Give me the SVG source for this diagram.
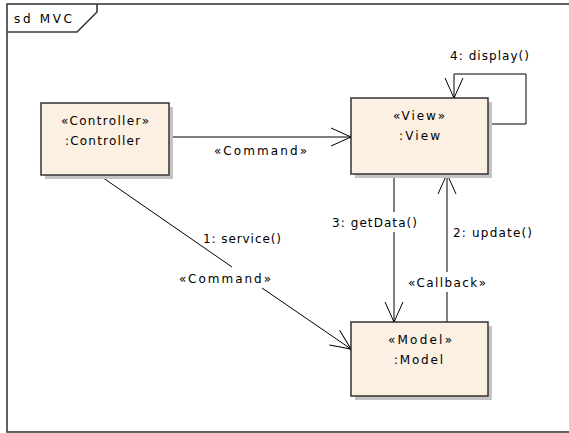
<svg xmlns="http://www.w3.org/2000/svg" width="569" height="433" viewBox="0 0 569 433">
<defs>
<style>
text{font-family:"DejaVu Sans","Liberation Sans",sans-serif;font-size:12px;fill:#000}
.c{text-anchor:middle}
.box{fill:#FBF0E2;stroke:#333;stroke-width:1.5}
.sh{fill:#C4C4C4}
.con{fill:none;stroke:#000;stroke-width:1}
.frame{fill:none;stroke:#3a3a3a;stroke-width:1.6}
</style>
<marker id="arr" markerUnits="userSpaceOnUse" viewBox="-21 -10 23 20" markerWidth="23" markerHeight="20" refX="0" refY="0" orient="auto">
<path d="M-20,-9 L0,0 L-20,9" fill="none" stroke="#000" stroke-width="1"/>
<circle cx="0" cy="0" r="1.6" fill="#000"/>
</marker>
</defs>
<rect width="569" height="433" fill="#fff"/>
<g id="frame">
<rect class="frame" x="7" y="4" width="570" height="428"/>
<path class="frame" d="M7,32 H77 L97,12 V4"/>
<text x="14" y="23" textLength="58" lengthAdjust="spacing">sd MVC</text>
</g>
<g id="connectors">
<path class="con" d="M169,137 H351" marker-end="url(#arr)"/>
<path class="con" d="M488,124 H526 V74 H454 V98" marker-end="url(#arr)"/>
<path class="con" d="M394,174 V212 M394,232 V322" marker-end="url(#arr)"/>
<path class="con" d="M447,322 V292 M447,272 V174" marker-end="url(#arr)"/>
<path class="con" d="M99,175 L232,267 M262,288 L351,349" marker-end="url(#arr)"/>
<text class="c" x="260.5" y="155" textLength="93" lengthAdjust="spacing">«Command»</text>
<text x="450" y="60" textLength="79" lengthAdjust="spacing">4: display()</text>
<text x="332" y="227" textLength="85" lengthAdjust="spacing">3: getData()</text>
<text x="453" y="237" textLength="79" lengthAdjust="spacing">2: update()</text>
<text class="c" x="447" y="287" textLength="78" lengthAdjust="spacing">«Callback»</text>
<text x="203" y="243" textLength="78" lengthAdjust="spacing">1: service()</text>
<text class="c" x="225" y="283" textLength="92" lengthAdjust="spacing">«Command»</text>
</g>
<g id="controller">
<rect class="sh" x="45" y="107" width="128" height="72"/>
<rect class="box" x="41" y="103" width="128" height="72"/>
<text class="c" x="105" y="125" textLength="88" lengthAdjust="spacing">«Controller»</text>
<text class="c" x="102.5" y="145" textLength="75" lengthAdjust="spacing">:Controller</text>
</g>
<g id="view">
<rect class="sh" x="355" y="102" width="137" height="76"/>
<rect class="box" x="351" y="98" width="137" height="76"/>
<text class="c" x="419" y="120" textLength="52" lengthAdjust="spacing">«View»</text>
<text class="c" x="419.5" y="140" textLength="41" lengthAdjust="spacing">:View</text>
</g>
<g id="model">
<rect class="sh" x="355" y="326" width="137" height="74"/>
<rect class="box" x="351" y="322" width="137" height="74"/>
<text class="c" x="420" y="344" textLength="64" lengthAdjust="spacing">«Model»</text>
<text class="c" x="418.5" y="364" textLength="49" lengthAdjust="spacing">:Model</text>
</g>
</svg>
